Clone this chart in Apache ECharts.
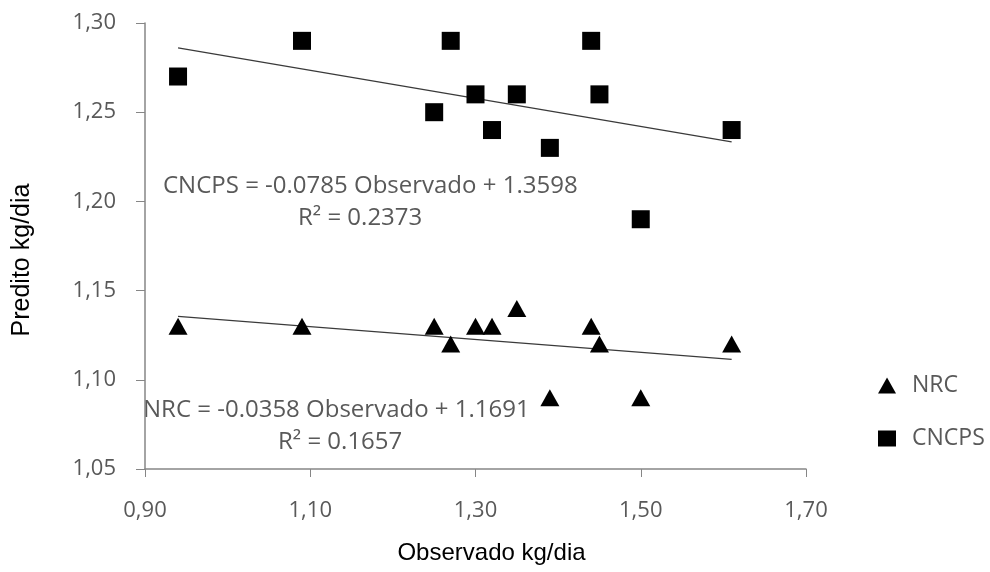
<!DOCTYPE html>
<html>
<head>
<meta charset="utf-8">
<script src="https://cdn.jsdelivr.net/npm/echarts@6/dist/echarts.min.js"></script>
<style>html,body{margin:0;padding:0;background:#fff}#c{width:990px;height:572px}</style>
</head>
<body>
<div id="c"></div>
<script>
// Observed values (x)
const observado = [0.94, 1.09, 1.25, 1.27, 1.30, 1.32, 1.35, 1.39, 1.44, 1.45, 1.50, 1.61];
// Predicted values
const nrcPred   = [1.13, 1.13, 1.13, 1.12, 1.13, 1.13, 1.14, 1.09, 1.13, 1.12, 1.09, 1.12];
const cncpsPred = [1.27, 1.29, 1.25, 1.29, 1.26, 1.24, 1.26, 1.23, 1.29, 1.26, 1.19, 1.24];
// Trendline endpoints (from the printed equations, at min and max observed)
const trendNRC   = [[0.94, 1.1355], [1.61, 1.1115]];
const trendCNCPS = [[0.94, 1.2860], [1.61, 1.2334]];
// Equation labels
const eqCNCPS = ['CNCPS = -0.0785 Observado + 1.3598', 'R² = 0.2373'];
const eqNRC   = ['NRC = -0.0358 Observado + 1.1691', 'R² = 0.1657'];
const xTicks = [0.9, 1.7, 0.2];
const yTicks = [1.05, 1.30, 0.05];

const chart = echarts.init(document.getElementById('c'), null, {renderer: 'canvas'});
const gray = '#595959';
const lblFont = {fontFamily: 'Open Sans', fontSize: 22, color: gray};
const fmt = v => v.toFixed(2).replace('.', ',');
const eqFont = '24px "Open Sans"';

chart.setOption({
  animation: false,
  backgroundColor: '#fff',
  grid: {left: 145, right: 184, top: 23, bottom: 103, containLabel: false},
  xAxis: {
    type: 'value', min: xTicks[0], max: xTicks[1], interval: xTicks[2],
    name: 'Observado kg/dia', nameLocation: 'middle', nameGap: 72,
    nameTextStyle: {fontFamily: 'Liberation Sans', fontSize: 24, color: '#000', padding: [0, 0, 0, 32]},
    axisLine: {lineStyle: {color: '#868686', width: 1.5}},
    axisTick: {show: true, length: 8, lineStyle: {color: '#868686'}},
    axisLabel: {...lblFont, margin: 31, formatter: fmt},
    splitLine: {show: false}
  },
  yAxis: {
    type: 'value', min: yTicks[0], max: yTicks[1], interval: yTicks[2],
    name: 'Predito kg/dia', nameLocation: 'middle', nameGap: 110, nameRotate: 90,
    nameTextStyle: {fontFamily: 'Liberation Sans', fontSize: 25, color: '#000', padding: [0, 28, 0, 0]},
    axisLine: {show: true, lineStyle: {color: '#868686', width: 1.5}},
    axisTick: {show: true, length: 9, lineStyle: {color: '#868686'}},
    axisLabel: {...lblFont, margin: 29, formatter: fmt},
    splitLine: {show: false}
  },
  legend: {
    orient: 'vertical', left: 873, top: 369, itemGap: 30,
    itemWidth: 18, itemHeight: 16,
    textStyle: {fontFamily: 'Open Sans', fontSize: 23, color: gray, padding: [0, 0, 0, 11]},
    data: [{name: 'NRC', icon: 'triangle'}, {name: 'CNCPS', icon: 'rect'}]
  },
  graphic: [
    {type: 'text', left: 163, top: 174, style: {text: eqCNCPS[0], font: eqFont, fill: gray}},
    {type: 'text', left: 298, top: 206, style: {text: eqCNCPS[1], font: eqFont, fill: gray}},
    {type: 'text', left: 143, top: 398, style: {text: eqNRC[0], font: eqFont, fill: gray}},
    {type: 'text', left: 278, top: 430, style: {text: eqNRC[1], font: eqFont, fill: gray}}
  ],
  series: [
    {
      name: 'NRC', type: 'scatter', symbol: 'triangle', symbolSize: [19, 17],
      itemStyle: {color: '#000', opacity: 1},
      data: observado.map((x, i) => [x, nrcPred[i]]), z: 3
    },
    {
      name: 'CNCPS', type: 'scatter', symbol: 'rect', symbolSize: 18,
      itemStyle: {color: '#000', opacity: 1},
      data: observado.map((x, i) => [x, cncpsPred[i]]), z: 3
    },
    {
      name: 'trendNRC', type: 'line', data: trendNRC, symbol: 'none',
      lineStyle: {color: '#3a3a3a', width: 1.3}, z: 2, silent: true
    },
    {
      name: 'trendCNCPS', type: 'line', data: trendCNCPS, symbol: 'none',
      lineStyle: {color: '#3a3a3a', width: 1.3}, z: 2, silent: true
    }
  ]
});
</script>
</body>
</html>
